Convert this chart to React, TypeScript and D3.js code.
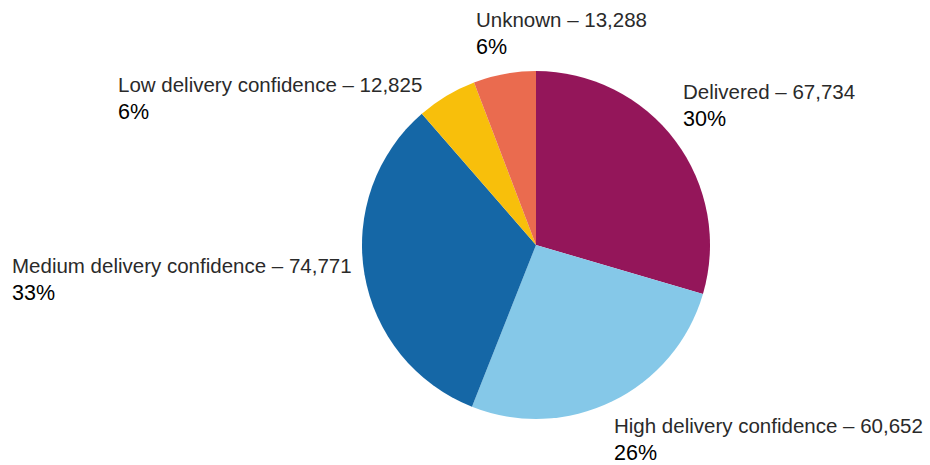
import React from "react";
import * as d3 from "d3";

// Delivery status breakdown, clockwise from 12 o'clock
const categories = [
  "Delivered",
  "High delivery confidence",
  "Medium delivery confidence",
  "Low delivery confidence",
  "Unknown",
];
const counts = [67734, 60652, 74771, 12825, 13288];
const percentLabels = ["30%", "26%", "33%", "6%", "6%"];
const colors = ["#94165A", "#85C8E8", "#1567A6", "#F8BF0B", "#EA6B4F"];

// Baseline of the first line of each two-line label
const labelAnchors: Record<string, [number, number]> = {
  Delivered: [683, 99],
  "High delivery confidence": [614, 433],
  "Medium delivery confidence": [12, 273],
  "Low delivery confidence": [118, 92],
  Unknown: [476, 27],
};

const W = 930;
const H = 465;
const cx = 536;
const cy = 245;
const radius = 174;
const lineGap = 27;

export default function App() {
  const data = categories.map((c, i) => ({ name: c, value: counts[i], pct: percentLabels[i], color: colors[i] }));
  const pie = d3
    .pie<(typeof data)[number]>()
    .sort(null)
    .value((d) => d.value)
    .startAngle(0)
    .endAngle(2 * Math.PI);
  const arc = d3.arc<d3.PieArcDatum<(typeof data)[number]>>().innerRadius(0).outerRadius(radius);
  const arcs = pie(data);
  const fmt = d3.format(",");

  return (
    <svg
      width={W}
      height={H}
      style={{ position: "absolute", left: 0, top: 0, background: "#fff" }}
      fontFamily="'Liberation Sans', Arial, sans-serif"
    >
      <g transform={`translate(${cx},${cy})`}>
        {arcs.map((a) => (
          <path key={a.data.name} d={arc(a) ?? ""} fill={a.data.color} />
        ))}
      </g>
      {data.map((d) => {
        const [x, y] = labelAnchors[d.name];
        return (
          <g key={d.name}>
            <text x={x} y={y} fontSize={20.5} fill="#2a2a2a">
              {`${d.name} – ${fmt(d.value)}`}
            </text>
            <text x={x} y={y + lineGap} fontSize={21.5} fill="#000">
              {d.pct}
            </text>
          </g>
        );
      })}
    </svg>
  );
}
